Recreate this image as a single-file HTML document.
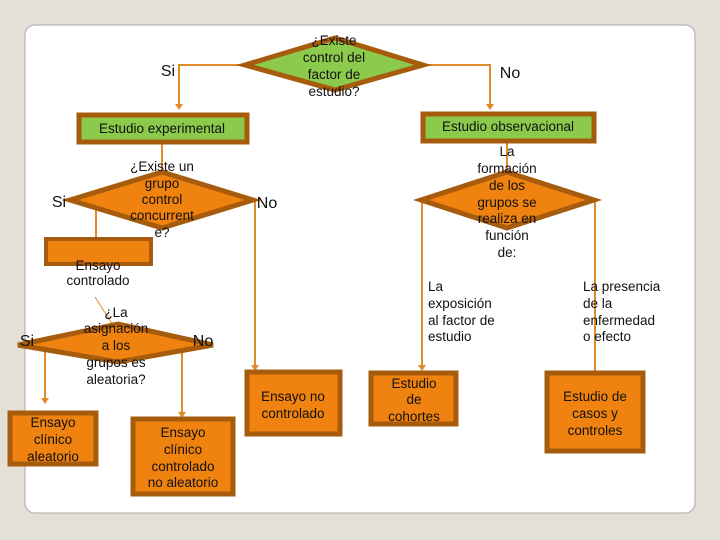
<!DOCTYPE html>
<html><head><meta charset="utf-8"><style>
html,body{margin:0;padding:0;background:#e4e0d8;}
svg{display:block;}
text{font-family:"Liberation Sans","DejaVu Sans",sans-serif;font-size:13.5px;fill:#111;text-anchor:middle;}
.l{text-anchor:start;}
.b{font-size:16px;}
</style></head><body>
<svg width="720" height="540" viewBox="0 0 720 540">
<rect x="0" y="0" width="720" height="540" fill="#e4e0d8"/>
<rect x="25" y="25" width="670" height="488" rx="10" fill="#fff" stroke="#aaa" stroke-width="1"/>
<g stroke="#e08a2a" stroke-width="2" fill="none">
<polyline points="245,65 179,65 179,104"/>
<polyline points="423,65 490,65 490,104"/>
<line x1="162" y1="142" x2="162" y2="172"/>
<line x1="507" y1="141" x2="507" y2="172"/>
<line x1="96" y1="200" x2="96" y2="253"/>
<line x1="255" y1="200" x2="255" y2="365"/>
<line x1="45" y1="345" x2="45" y2="398"/>
<line x1="182" y1="345" x2="182" y2="412"/>
<line x1="422" y1="200" x2="422" y2="365"/>
<line x1="595" y1="200" x2="595" y2="372"/>
<line x1="95" y1="297" x2="113" y2="325" stroke-width="1"/>
</g>
<g fill="#e08a2a">
<polygon points="175,104 183,104 179,110"/><polygon points="486,104 494,104 490,110"/>
<polygon points="92,253 100,253 96,259"/><polygon points="251,365 259,365 255,371"/>
<polygon points="41,398 49,398 45,404"/><polygon points="178,412 186,412 182,418"/>
<polygon points="418,365 426,365 422,371"/>
</g>
<g stroke="#a65c0c" stroke-width="5">
<polygon points="245,65 335,38 423,65 335,90" fill="#8cca4c"/>
<rect x="79" y="115" width="168" height="27" fill="#8cca4c"/>
<rect x="423" y="114" width="171" height="27" fill="#8cca4c"/>
<polygon points="70,200 162,172 253,200 162,228" fill="#f0820f"/>
<polygon points="421,200 507,172 594,200 507,228" fill="#f0820f"/>
<polygon points="18,345 118,324 213,345 118,362" fill="#f0820f"/>
<rect x="46" y="239" width="105" height="25" fill="#f0820f" stroke-width="4"/>
<rect x="247" y="372" width="93" height="62" fill="#f0820f"/>
<rect x="10" y="413" width="86" height="51" fill="#f0820f"/>
<rect x="133" y="419" width="100" height="75" fill="#f0820f"/>
<rect x="371" y="373" width="85" height="51" fill="#f0820f"/>
<rect x="547" y="373" width="96" height="78" fill="#f0820f"/>
</g>
<text x="334" y="45">¿Existe</text><text x="334" y="62">control del</text><text x="334" y="79">factor de</text><text x="334" y="96">estudio?</text>
<text x="168" y="76" class="b">Si</text><text x="510" y="78" class="b">No</text>
<text x="162" y="133">Estudio experimental</text>
<text x="508" y="131">Estudio observacional</text>
<text x="162" y="171">¿Existe un</text><text x="162" y="188">grupo</text><text x="162" y="204">control</text><text x="162" y="220">concurrent</text><text x="162" y="237">e?</text>
<text x="59" y="207" class="b">Si</text><text x="267" y="208" class="b">No</text>
<text x="507" y="156">La</text><text x="507" y="173">formación</text><text x="507" y="190">de los</text><text x="507" y="207">grupos se</text><text x="507" y="223">realiza en</text><text x="507" y="240">función</text><text x="507" y="257">de:</text>
<text x="98" y="270">Ensayo</text><text x="98" y="285">controlado</text>
<text x="116" y="317">¿La</text><text x="116" y="333">asignación</text><text x="116" y="350">a los</text><text x="116" y="367">grupos es</text><text x="116" y="384">aleatoria?</text>
<text x="27" y="346" class="b">Si</text><text x="203" y="346" class="b">No</text>
<text x="293" y="401">Ensayo no</text><text x="293" y="418">controlado</text>
<text x="53" y="427">Ensayo</text><text x="53" y="444">clínico</text><text x="53" y="461">aleatorio</text>
<text x="183" y="437">Ensayo</text><text x="183" y="454">clínico</text><text x="183" y="471">controlado</text><text x="183" y="487">no aleatorio</text>
<text x="414" y="388">Estudio</text><text x="414" y="404">de</text><text x="414" y="421">cohortes</text>
<text x="595" y="401">Estudio de</text><text x="595" y="418">casos y</text><text x="595" y="435">controles</text>
<text x="428" y="291" class="l">La</text><text x="428" y="308" class="l">exposición</text><text x="428" y="325" class="l">al factor de</text><text x="428" y="341" class="l">estudio</text>
<text x="583" y="291" class="l">La presencia</text><text x="583" y="308" class="l">de la</text><text x="583" y="325" class="l">enfermedad</text><text x="583" y="341" class="l">o efecto</text>
</svg>
</body></html>
